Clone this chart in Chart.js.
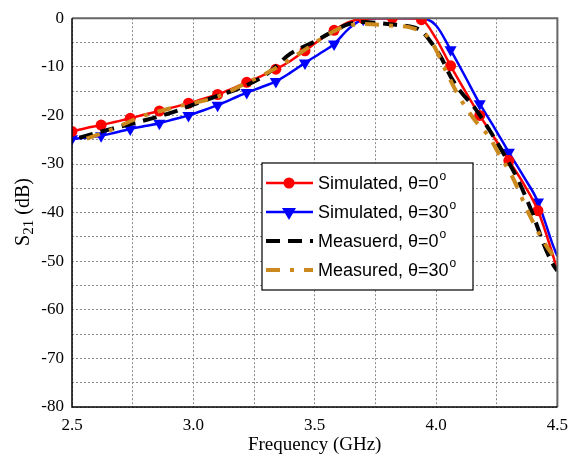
<!DOCTYPE html>
<html><head><meta charset="utf-8">
<script src="https://cdn.jsdelivr.net/npm/chart.js@4.4.1/dist/chart.umd.min.js"></script>
<style>html,body{margin:0;padding:0;background:#fff;}#wrap{width:576px;height:461px;}</style>
</head><body><div id="wrap"><canvas id="c" width="576" height="461"></canvas></div>
<script>
const simFreq = [2.50,2.56,2.62,2.68,2.74,2.80,2.86,2.92,2.98,3.04,3.10,3.16,3.22,3.28,3.34,3.40,3.46,3.52,3.58,3.64,3.70,3.76,3.82,3.88,3.94,4.00,4.06,4.12,4.18,4.24,4.30,4.36,4.42,4.48,4.50];
const sim0dB  = [-23.3,-22.6,-22.0,-21.3,-20.6,-19.8,-19.1,-18.3,-17.5,-16.6,-15.7,-14.5,-13.2,-11.9,-10.5,-8.8,-6.7,-4.5,-2.5,-0.8,-0.1,0,0,0,-0.3,-4.2,-9.8,-15.0,-20.0,-24.6,-29.3,-34.0,-39.6,-48.5,-52.0];
const sim30dB = [-24.8,-24.6,-24.2,-23.5,-22.8,-22.2,-21.6,-20.8,-20.0,-19.0,-17.9,-16.6,-15.3,-14.2,-13.0,-11.2,-9.2,-7.3,-5.3,-2.2,-0.2,0,0,0,0,-1.5,-6.5,-12.0,-17.6,-22.5,-27.6,-32.5,-37.8,-46.5,-49.0];
const meas0Freq = [2.53,2.60,2.70,2.80,2.90,3.00,3.10,3.20,3.30,3.40,3.50,3.58,3.64,3.70,3.80,3.88,3.94,3.98,4.02,4.06,4.10,4.16,4.22,4.28,4.34,4.40,4.44,4.48,4.50];
const meas0dB   = [-24.6,-23.6,-22.3,-21.0,-19.6,-17.8,-16.0,-14.2,-11.6,-7.3,-4.8,-2.6,-1.2,-0.8,-1.2,-1.6,-2.6,-5.0,-8.0,-12.0,-15.0,-18.5,-23.0,-28.0,-33.5,-40.5,-46.0,-50.5,-52.0];
const meas30Freq = [2.56,2.65,2.75,2.80,2.95,3.09,3.22,3.35,3.45,3.55,3.62,3.70,3.80,3.90,3.96,4.00,4.04,4.09,4.16,4.22,4.26,4.31,4.39,4.45,4.50];
const meas30dB   = [-24.8,-23.2,-21.0,-20.0,-18.0,-16.3,-13.3,-10.0,-6.8,-3.5,-1.8,-1.2,-1.5,-2.0,-3.5,-6.5,-10.8,-15.7,-21.0,-24.5,-28.0,-32.2,-41.0,-46.5,-50.0];
const legendLabels = ["Simulated, \u03B8=0", "Simulated, \u03B8=30", "Measuerd, \u03B8=0", "Measured, \u03B8=30"];

const pts = (xs, ys) => xs.map((x, i) => ({x: x, y: ys[i]}));
const markerR = (r) => simFreq.map((f, i) => (i % 2 === 0 && i < simFreq.length - 1) ? r : 0);

const RED = '#ff0000', BLUE = '#0000ff', BLACK = '#000000', ORANGE = '#cc8a1e';

const decor = {
  id: 'decor',
  afterDatasetsDraw(chart) {
    const ctx = chart.ctx, a = chart.chartArea;
    ctx.save();
    ctx.strokeStyle = '#666'; ctx.lineWidth = 2;
    ctx.beginPath(); ctx.moveTo(a.left, a.top); ctx.lineTo(a.right, a.top); ctx.lineTo(a.right, a.bottom); ctx.stroke();
    ctx.strokeStyle = '#000'; ctx.lineWidth = 1.5;
    ctx.beginPath(); ctx.moveTo(a.left, a.top); ctx.lineTo(a.left, a.bottom); ctx.lineTo(a.right, a.bottom); ctx.stroke();
    const bx = 262, by = 163, bw = 211, bh = 127;
    ctx.fillStyle = '#fff'; ctx.fillRect(bx, by, bw, bh);
    ctx.strokeStyle = '#000'; ctx.lineWidth = 1.2; ctx.strokeRect(bx, by, bw, bh);
    const rows = [183, 212, 241, 270];
    const styles = [
      {c: RED, w: 2.5, dash: [], m: 'circle'},
      {c: BLUE, w: 2.5, dash: [], m: 'tri'},
      {c: BLACK, w: 4, dash: [14, 8], m: null},
      {c: ORANGE, w: 4, dash: [14, 10, 4, 10], m: null}
    ];
    rows.forEach((y, i) => {
      const s = styles[i];
      ctx.strokeStyle = s.c; ctx.lineWidth = s.w; ctx.setLineDash(s.dash);
      ctx.beginPath(); ctx.moveTo(266, y); ctx.lineTo(313, y); ctx.stroke();
      ctx.setLineDash([]);
      ctx.fillStyle = s.c;
      if (s.m === 'circle') { ctx.beginPath(); ctx.arc(289, y, 5.5, 0, Math.PI * 2); ctx.fill(); }
      if (s.m === 'tri') { ctx.beginPath(); ctx.moveTo(282, y - 4); ctx.lineTo(296, y - 4); ctx.lineTo(289, y + 8); ctx.closePath(); ctx.fill(); }
      ctx.fillStyle = '#000';
      ctx.font = '18px "Liberation Sans", Arial, sans-serif';
      ctx.textBaseline = 'middle'; ctx.textAlign = 'left';
      const t = legendLabels[i];
      ctx.fillText(t, 318, y + 1);
      const w = ctx.measureText(t).width;
      ctx.font = '12px "Liberation Sans", Arial, sans-serif';
      ctx.fillText('o', 318 + w + 1, y - 6);
    });
    ctx.fillStyle = '#000';
    ctx.font = '19px "Liberation Serif", "Times New Roman", serif';
    ctx.textAlign = 'center'; ctx.textBaseline = 'middle';
    ctx.fillText('Frequency (GHz)', (a.left + a.right) / 2, 445);
    ctx.save();
    ctx.translate(22, 212);
    ctx.rotate(-Math.PI / 2);
    ctx.textAlign = 'left'; ctx.textBaseline = 'alphabetic';
    const p1 = 'S', p3 = ' (dB)';
    ctx.font = '20px "Liberation Serif", serif'; const w1 = ctx.measureText(p1).width;
    ctx.font = '15px "Liberation Serif", serif'; const w2 = ctx.measureText('21').width;
    ctx.font = '20px "Liberation Serif", serif'; const w3 = ctx.measureText(p3).width;
    let x0 = -(w1 + w2 + w3) / 2;
    ctx.fillText(p1, x0, 7);
    ctx.font = '15px "Liberation Serif", serif'; ctx.fillText('21', x0 + w1, 11);
    ctx.font = '20px "Liberation Serif", serif'; ctx.fillText(p3, x0 + w1 + w2, 7);
    ctx.restore();
    ctx.restore();
  }
};

const tickFont = {family: '"Liberation Serif", "Times New Roman", serif', size: 17};
const gridCfg = {color: '#8a8a8a', lineWidth: 1, drawTicks: false};

new Chart(document.getElementById('c'), {
  type: 'line',
  data: {
    datasets: [
      {label: legendLabels[3], data: pts(meas30Freq, meas30dB), borderColor: ORANGE, borderWidth: 4, borderDash: [14, 10, 4, 10], pointRadius: 0, cubicInterpolationMode: 'monotone', order: 0},
      {label: legendLabels[2], data: pts(meas0Freq, meas0dB), borderColor: BLACK, borderWidth: 4, borderDash: [14, 8], pointRadius: 0, cubicInterpolationMode: 'monotone', order: 1},
      {label: legendLabels[0], data: pts(simFreq, sim0dB), borderColor: RED, backgroundColor: RED, borderWidth: 2.5, pointRadius: markerR(5.5), pointStyle: 'circle', pointBorderWidth: 0, cubicInterpolationMode: 'monotone', order: 2},
      {label: legendLabels[1], data: pts(simFreq, sim30dB), borderColor: BLUE, backgroundColor: BLUE, borderWidth: 2.5, pointRadius: markerR(7), pointStyle: 'triangle', pointRotation: 180, pointBorderWidth: 0, cubicInterpolationMode: 'monotone', order: 3}
    ]
  },
  options: {
    responsive: false,
    animation: false,
    events: [],
    layout: {padding: {left: 0, top: 15, right: 13, bottom: 0}},
    plugins: {legend: {display: false}, tooltip: {enabled: false}},
    scales: {
      x: {
        type: 'linear', min: 2.5, max: 4.5,
        afterFit(s) { s.height = 54; },
        border: {display: false, dash: [2, 2]},
        grid: Object.assign({}, gridCfg),
        ticks: {
          stepSize: 0.25, font: tickFont, color: '#000', padding: 8, maxRotation: 0, autoSkip: false,
          callback: (v) => Math.abs(v * 2 - Math.round(v * 2)) < 1e-6 ? v.toFixed(1) : ''
        }
      },
      y: {
        min: -80, max: 0,
        afterFit(s) { s.width = 72; },
        border: {display: false, dash: [2, 2]},
        grid: Object.assign({}, gridCfg),
        ticks: {
          stepSize: 5, font: tickFont, color: '#000', padding: 8, autoSkip: false,
          callback: (v) => (Math.round(v) % 10 === 0) ? String(v) : ''
        }
      }
    }
  },
  plugins: [decor]
});
</script>
</body></html>
